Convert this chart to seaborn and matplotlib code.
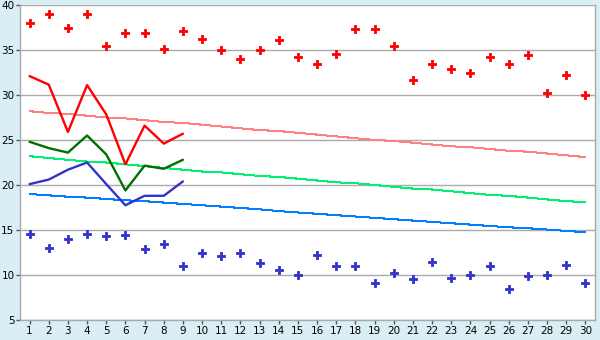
import matplotlib
matplotlib.use("Agg")
import matplotlib.pyplot as plt
import seaborn as sns
import pandas as pd

days = list(range(1, 31))
record_high = [38.0, 39.0, 37.5, 39.0, 35.5, 36.9, 36.9, 35.1, 37.1, 36.2,
               35.0, 34.0, 35.0, 36.1, 34.2, 33.4, 34.6, 37.3, 37.3, 35.4,
               31.7, 33.4, 32.9, 32.4, 34.2, 33.4, 34.4, 30.2, 32.2, 30.0]
record_low = [14.6, 13.0, 14.0, 14.6, 14.3, 14.4, 12.9, 13.4, 11.0, 12.4,
              12.1, 12.5, 11.3, 10.6, 10.0, 12.2, 11.0, 11.0, 9.1, 10.2,
              9.6, 11.4, 9.7, 10.0, 11.0, 8.4, 9.9, 10.0, 11.1, 9.1]
normal_high = [28.2, 28.0, 27.9, 27.7, 27.5, 27.4, 27.2, 27.0, 26.9, 26.7,
               26.5, 26.3, 26.1, 26.0, 25.8, 25.6, 25.4, 25.2, 25.0, 24.9,
               24.7, 24.5, 24.3, 24.2, 24.0, 23.8, 23.7, 23.5, 23.3, 23.1]
normal_mean = [23.2, 23.0, 22.8, 22.6, 22.5, 22.3, 22.1, 21.9, 21.7, 21.5,
               21.4, 21.2, 21.0, 20.9, 20.7, 20.5, 20.3, 20.2, 20.0, 19.8,
               19.6, 19.5, 19.3, 19.1, 18.9, 18.8, 18.6, 18.4, 18.2, 18.1]
normal_low = [19.0, 18.85, 18.7, 18.6, 18.45, 18.3, 18.2, 18.05, 17.9, 17.75,
              17.6, 17.45, 17.3, 17.1, 16.95, 16.8, 16.65, 16.5, 16.35, 16.2,
              16.05, 15.9, 15.75, 15.6, 15.45, 15.3, 15.2, 15.05, 14.9, 14.75]
obs_days = [1, 2, 3, 4, 5, 6, 7, 8, 9]
obs_high = [32.1, 31.15, 25.9, 31.1, 27.85, 22.3, 26.6, 24.6, 25.7]
obs_mean = [24.8, 24.1, 23.6, 25.5, 23.4, 19.4, 22.15, 21.8, 22.8]
obs_low = [20.1, 20.6, 21.7, 22.5, 20.1, 17.75, 18.8, 18.8, 20.4]
y_ticks = [5, 10, 15, 20, 25, 30, 35, 40]

sns.set_theme(style="white")
plt.rcParams['font.family'] = ['DejaVu Sans']

fig = plt.figure(figsize=(6, 3.4), dpi=100)
fig.patch.set_facecolor("#d9eff5")
ax = fig.add_axes([20/600, 20/340, 575/600, 315/340])
ax.set_facecolor("white")

df = pd.DataFrame({"day": days, "rh": record_high, "rl": record_low,
                   "nh": normal_high, "nm": normal_mean, "nl": normal_low})
obs = pd.DataFrame({"day": obs_days, "h": obs_high, "m": obs_mean, "l": obs_low})

sns.lineplot(data=df, x="day", y="nh", ax=ax, color="#ff8080", lw=0.75, antialiased=False)
sns.lineplot(data=df, x="day", y="nm", ax=ax, color="#00f070", lw=0.75, antialiased=False)
sns.lineplot(data=df, x="day", y="nl", ax=ax, color="#0080ff", lw=0.75, antialiased=False)
sns.lineplot(data=obs, x="day", y="h", ax=ax, color="#ff0000", lw=1.7)
sns.lineplot(data=obs, x="day", y="m", ax=ax, color="#007000", lw=1.7)
sns.lineplot(data=obs, x="day", y="l", ax=ax, color="#3333cc", lw=1.7)
sns.scatterplot(data=df, x="day", y="rh", ax=ax, color="#ff0000", marker="P",
                s=26, linewidth=0.6, edgecolor="#ff0000")
sns.scatterplot(data=df, x="day", y="rl", ax=ax, color="#3333cc", marker="P",
                s=26, linewidth=0.6, edgecolor="#3333cc")

ax.set_xlim(0.5, 30.5)
ax.set_ylim(5, 40)
ax.set_xticks(days)
ax.set_xticklabels([str(d) for d in days])
ax.set_yticks(y_ticks)
ax.set_yticklabels([str(v) for v in y_ticks])
ax.set_xlabel("")
ax.set_ylabel("")
ax.grid(axis="y", color="#aaaaaa", lw=1)
ax.set_axisbelow(True)
for s in ["left", "bottom", "right"]:
    ax.spines[s].set_visible(True)
    ax.spines[s].set_color("#aaaaaa")
    ax.spines[s].set_linewidth(1)
ax.spines["top"].set_visible(False)
ax.tick_params(axis="both", which="both", direction="out", length=3, width=1,
               color="#555555", labelsize=7.5, labelcolor="black", pad=1,
               bottom=True, left=True)

fig.savefig("out.png", dpi=100, facecolor=fig.get_facecolor())
